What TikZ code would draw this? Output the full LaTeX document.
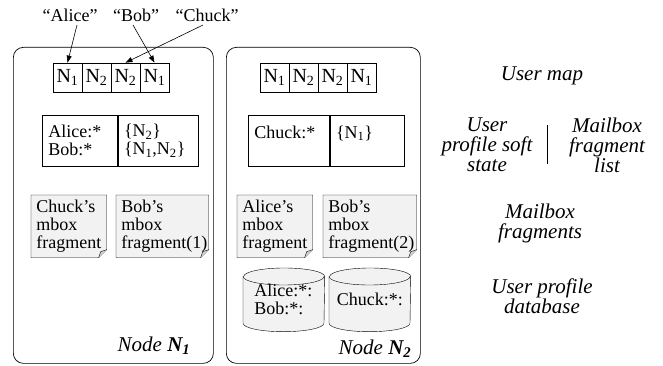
\documentclass[tikz,border=0pt]{standalone}
\usepackage{fontspec}
\setmainfont{Liberation Serif}
\usetikzlibrary{arrows.meta,backgrounds}
\definecolor{fraggray}{gray}{0.95}
\definecolor{flapgray}{gray}{0.82}

\begin{document}
\begin{tikzpicture}[x=1pt, y=-1pt, line width=0.7pt,
  body/.style={font=\fontsize{18}{18}\selectfont},
  caption/.style={font=\fontsize{21}{20}\selectfont\itshape, align=center},
  nodebox/.style={draw, rounded corners=10pt, anchor=north west, inner sep=0pt},
  mapcell/.style={draw, minimum width=29pt, minimum height=29pt, inner sep=0pt,
    font=\fontsize{20}{20}\selectfont},
  tabcell/.style={body, draw, anchor=north west, minimum height=51pt, inner xsep=6pt,
    inner ysep=0pt, align=left},
  frag/.style={body, anchor=north west, minimum height=62pt, inner xsep=5pt,
    inner ysep=0pt, align=left},
  dbase/.style={body, anchor=north west, minimum width=81pt, minimum height=63pt,
    inner sep=0pt, align=left},
  ptr/.style={-{Triangle[length=7pt,width=5pt]}, line width=0.6pt}]

\useasboundingbox (0,0) rectangle (663,366);

%% the two nodes
\node[nodebox, minimum width=200pt, minimum height=316pt] (nodeA) at (13,47) {};
\node[nodebox, minimum width=194pt, minimum height=316pt] (nodeB) at (226,47) {};

%% user maps
\foreach \lab [count=\i] in {1,2,2,1}
  \node[mapcell] (mapA\i) at (53+29*\i-14.5,77.5) {N\textsubscript{\lab}};
\foreach \lab [count=\i] in {1,2,2,1}
  \node[mapcell] (mapB\i) at (260+29*\i-14.5,77.5) {N\textsubscript{\lab}};

%% user names pointing into the map
\path
(70,15) node[body](alice) {“Alice”}
(136,15) node[body](bob) {“Bob”}
(207,15) node[body](chuck) {“Chuck”};
\draw[ptr] ([xshift=7pt]alice.south) -- (mapA1.north);
\draw[ptr] ([xshift=-3pt]bob.south) -- (mapA4.north);
\draw[ptr] ([xshift=-4pt]chuck.south) -- (mapA3.north);

%% soft state and fragment lists
\node[tabcell, minimum width=75pt, text width=63pt] (stateA) at (42,115) {Alice:*\\Bob:*};
\node[tabcell, minimum width=80pt, text width=68pt] (listA) at (stateA.north east)
  {\{N\textsubscript{2}\}\\\{N\textsubscript{1},N\textsubscript{2}\}};
\node[tabcell, minimum width=81pt, text width=69pt] (stateB) at (248,115) {Chuck:*\\\mbox{}};
\node[tabcell, minimum width=74pt, text width=62pt] (listB) at (stateB.north east)
  {\{N\textsubscript{1}\}\\\mbox{}};

%% mailbox fragments
\node[frag, minimum width=75pt, text width=65pt] (fragA1) at (31,195) {Chuck’s\\mbox\\fragment};
\node[frag, minimum width=92pt, text width=82pt] (fragA2) at (116,195) {Bob’s\\mbox\\fragment(1)};
\node[frag, minimum width=75pt, text width=65pt] (fragB1) at (237,195) {Alice’s\\mbox\\fragment};
\node[frag, minimum width=93pt, text width=83pt] (fragB2) at (323,195) {Bob’s\\mbox\\fragment(2)};

%% user profile database
\node[dbase, text width=71pt] (dbB1) at (243,268) {\hspace*{6pt}Alice:*:\\\hspace*{6pt}Bob:*:};
\node[dbase, align=center, text width=81pt] (dbB2) at (329,268) {Chuck:*:};

\begin{scope}[on background layer]
\foreach \f in {fragA1,fragA2,fragB1,fragB2} {
  \filldraw[fill=fraggray] (\f.north west) -- (\f.north east) -- ([yshift=8pt]\f.south east)
    -- ([xshift=-8pt]\f.south east) -- (\f.south west) -- cycle;
  \filldraw[fill=flapgray] ([yshift=8pt]\f.south east) -- ([xshift=-6pt,yshift=6pt]\f.south east)
    -- ([xshift=-8pt]\f.south east);
}
\foreach \d in {dbB1,dbB2} {
  \filldraw[fill=fraggray] ([yshift=-8.5pt]\d.north west) -- ([yshift=8.5pt]\d.south west)
    arc[start angle=180, end angle=360, x radius=40.5pt, y radius=8.5pt]
    -- ([yshift=-8.5pt]\d.north east)
    arc[start angle=0, end angle=180, x radius=40.5pt, y radius=8.5pt] -- cycle;
  \draw ([yshift=-8.5pt]\d.north west)
    arc[start angle=180, end angle=360, x radius=40.5pt, y radius=8.5pt];
}
\end{scope}

%% node names
\node[caption, anchor=base east] (labA) at (194,351) {Node \textbf{N\textsubscript{1}}};
\node[caption, anchor=base east] (labB) at (415,354) {Node \textbf{N\textsubscript{2}}};

%% captions on the right
\node[caption] (capMap) at (542,76) {User map};
\node[caption] (capState) at (487,145) {User\\profile soft\\state};
\node[caption] (capList) at (607,145) {Mailbox\\fragment\\list};
\draw (547,125) -- (547,164);
\node[caption] (capFrag) at (540,223) {Mailbox\\fragments};
\node[caption] (capDb) at (542,296) {User profile\\database};

\end{tikzpicture}
\end{document}
